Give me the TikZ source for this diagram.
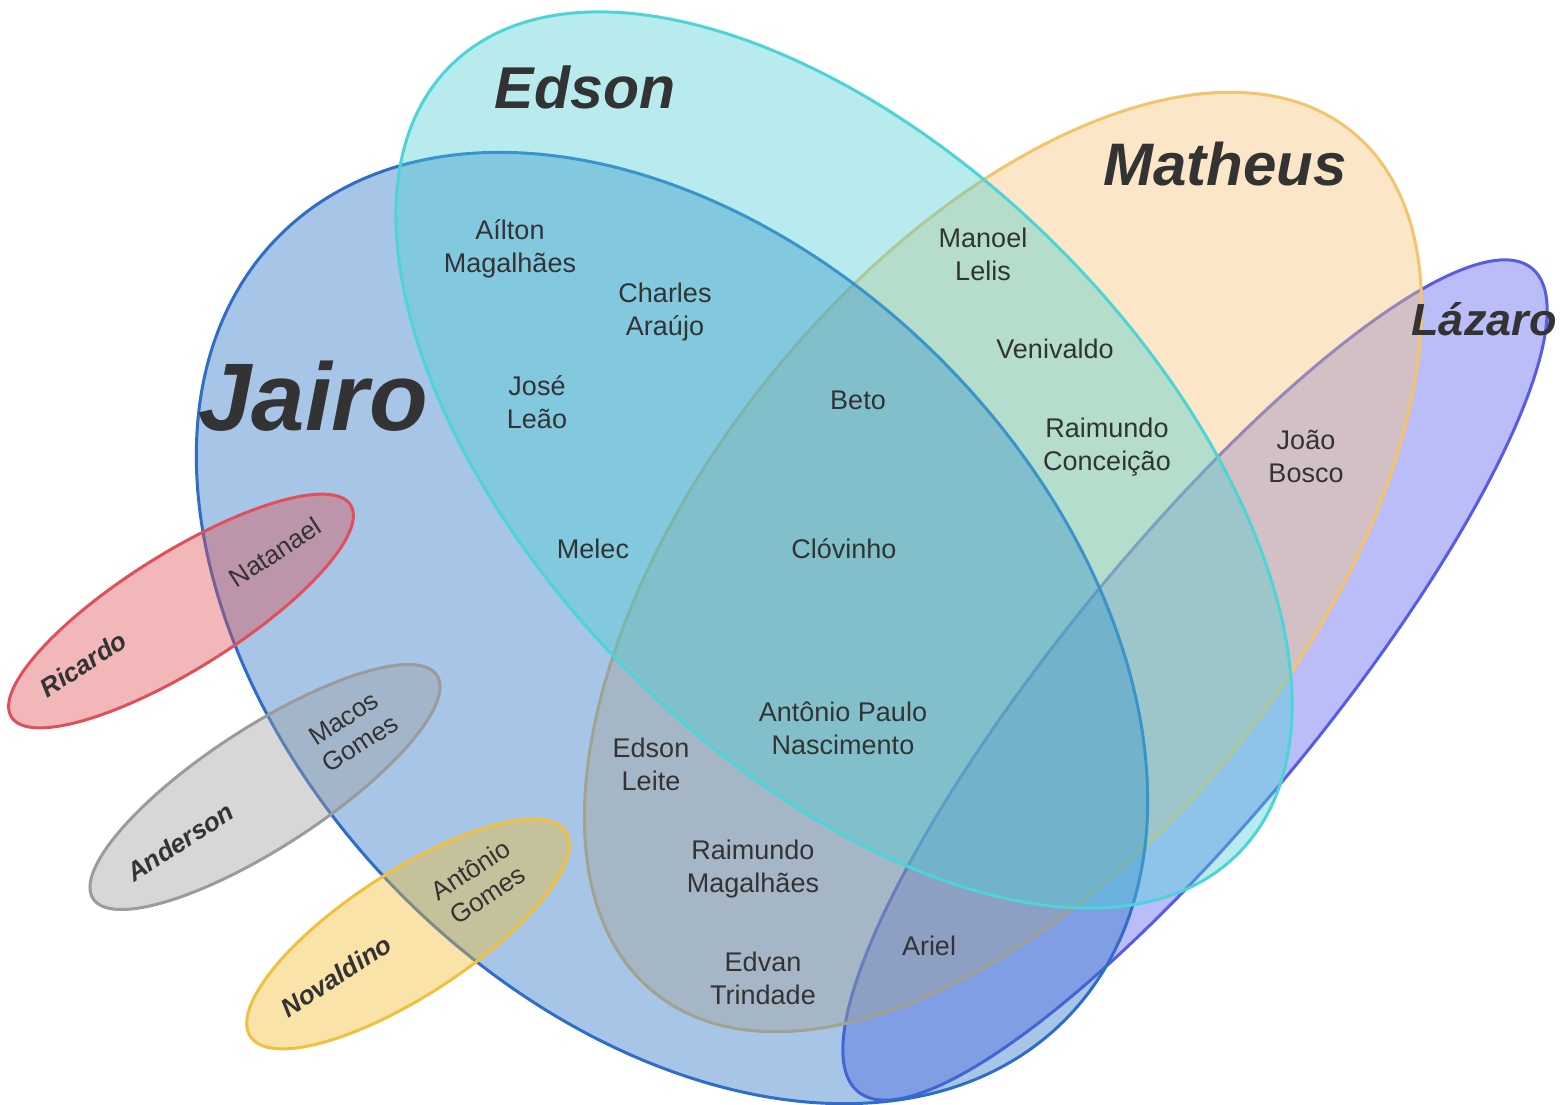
\documentclass[tikz,border=0pt]{standalone}
\usepackage{fontspec}
\setmainfont{Liberation Sans}
\definecolor{jairoF}{RGB}{37,112,197}
\definecolor{jairoD}{RGB}{46,110,200}
\definecolor{edsonF}{RGB}{75,207,212}
\definecolor{edsonD}{RGB}{77,212,216}
\definecolor{matF}{RGB}{247,197,117}
\definecolor{matD}{RGB}{244,196,108}
\definecolor{lazF}{RGB}{87,92,242}
\definecolor{lazD}{RGB}{88,92,228}
\definecolor{ricF}{RGB}{222,77,82}
\definecolor{ricD}{RGB}{224,80,90}
\definecolor{andF}{RGB}{157,157,157}
\definecolor{andD}{RGB}{155,155,155}
\definecolor{novF}{RGB}{242,187,42}
\definecolor{novD}{RGB}{240,192,64}
\definecolor{txt}{RGB}{51,51,51}
\begin{document}
\begin{tikzpicture}[x=1pt,y=-1pt,
  venn/.style={line width=3pt, fill opacity=0.4},
  lbl/.style={text=txt, font=\fontsize{27}{33}\selectfont, align=center, inner sep=0pt},
  rlbl/.style={text=txt, font=\fontsize{26}{30}\selectfont, align=center, inner sep=0pt, rotate=33},
  bigtitle/.style={text=txt, inner sep=0pt, anchor=base},
  smalltitle/.style={text=txt, font=\fontsize{26}{30}\selectfont\bfseries\itshape, inner sep=0pt, rotate=33}]
\fill[white] (0,0) rectangle (1564,1104);
\useasboundingbox (0,0) rectangle (1564,1104);
% ellipses
\filldraw[venn, fill=lazF, draw=lazD, rotate around={50.7:(1195,680)}] (1195,680) ellipse [x radius=532pt, y radius=132pt];
\filldraw[venn, fill=matF, draw=matD, rotate around={51:(1003,562)}] (1003,562) ellipse [x radius=554pt, y radius=298pt];
\filldraw[venn, fill=jairoF, draw=jairoD, rotate around={-45:(672,628)}] (672,628) ellipse [x radius=555pt, y radius=380pt];
\filldraw[venn, fill=edsonF, draw=edsonD, rotate around={-45:(844,460)}] (844,460) ellipse [x radius=557pt, y radius=302pt];
\filldraw[venn, fill=ricF, draw=ricD, rotate around={32:(181,611)}] (181,611) ellipse [x radius=200pt, y radius=58pt];
\filldraw[venn, fill=andF, draw=andD, rotate around={33:(265,787)}] (265,787) ellipse [x radius=205pt, y radius=60pt];
\filldraw[venn, fill=novF, draw=novD, rotate around={33:(408,934)}] (408,934) ellipse [x radius=188pt, y radius=62pt];
% titles
\node[bigtitle, font=\fontsize{96}{100}\selectfont\bfseries\itshape] (tJairo) at (313,430) {Jairo};
\node[bigtitle, font=\fontsize{59}{64}\selectfont\bfseries\itshape] (tEdson) at (585,108) {Edson};
\node[bigtitle, font=\fontsize{60}{64}\selectfont\bfseries\itshape] (tMatheus) at (1225,185) {Matheus};
\node[bigtitle, font=\fontsize{45}{50}\selectfont\bfseries\itshape] (tLazaro) at (1484,335) {Lázaro};
\node[smalltitle] (tRicardo) at (83,664) {Ricardo};
\node[smalltitle] (tAnderson) at (180,842) {Anderson};
\node[smalltitle] (tNovaldino) at (336,976) {Novaldino};
% rotated names
\node[rlbl] (natanael) at (275,552) {Natanael};
\node[rlbl] (macos) at (352,731) {Macos\\Gomes};
\node[rlbl] (antgomes) at (479,882) {Antônio\\Gomes};
% names
\node[lbl] (ailton) at (510,248.5) {Aílton\\Magalhães};
\node[lbl] (charles) at (665,312) {Charles\\Araújo};
\node[lbl] (jose) at (537,401.7) {José\\Leão};
\node[lbl, anchor=base] (melec) at (593,558) {Melec};
\node[lbl, anchor=base] (beto) at (858,409) {Beto};
\node[lbl, anchor=base] (clovinho) at (844,558) {Clóvinho};
\node[lbl] (manoel) at (983,254.7) {Manoel\\Lelis};
\node[lbl, anchor=base] (venivaldo) at (1055,358) {Venivaldo};
\node[lbl] (raimundoc) at (1107,447.4) {Raimundo\\Conceição};
\node[lbl] (joao) at (1306,456.7) {João\\Bosco};
\node[lbl] (antpaulo) at (843,728.7) {Antônio Paulo\\Nascimento};
\node[lbl] (edsonleite) at (651,764) {Edson\\Leite};
\node[lbl] (raimundom) at (753,869.5) {Raimundo\\Magalhães};
\node[lbl] (edvan) at (763,978.7) {Edvan\\Trindade};
\node[lbl, anchor=base] (ariel) at (929,955) {Ariel};
\end{tikzpicture}
\end{document}
